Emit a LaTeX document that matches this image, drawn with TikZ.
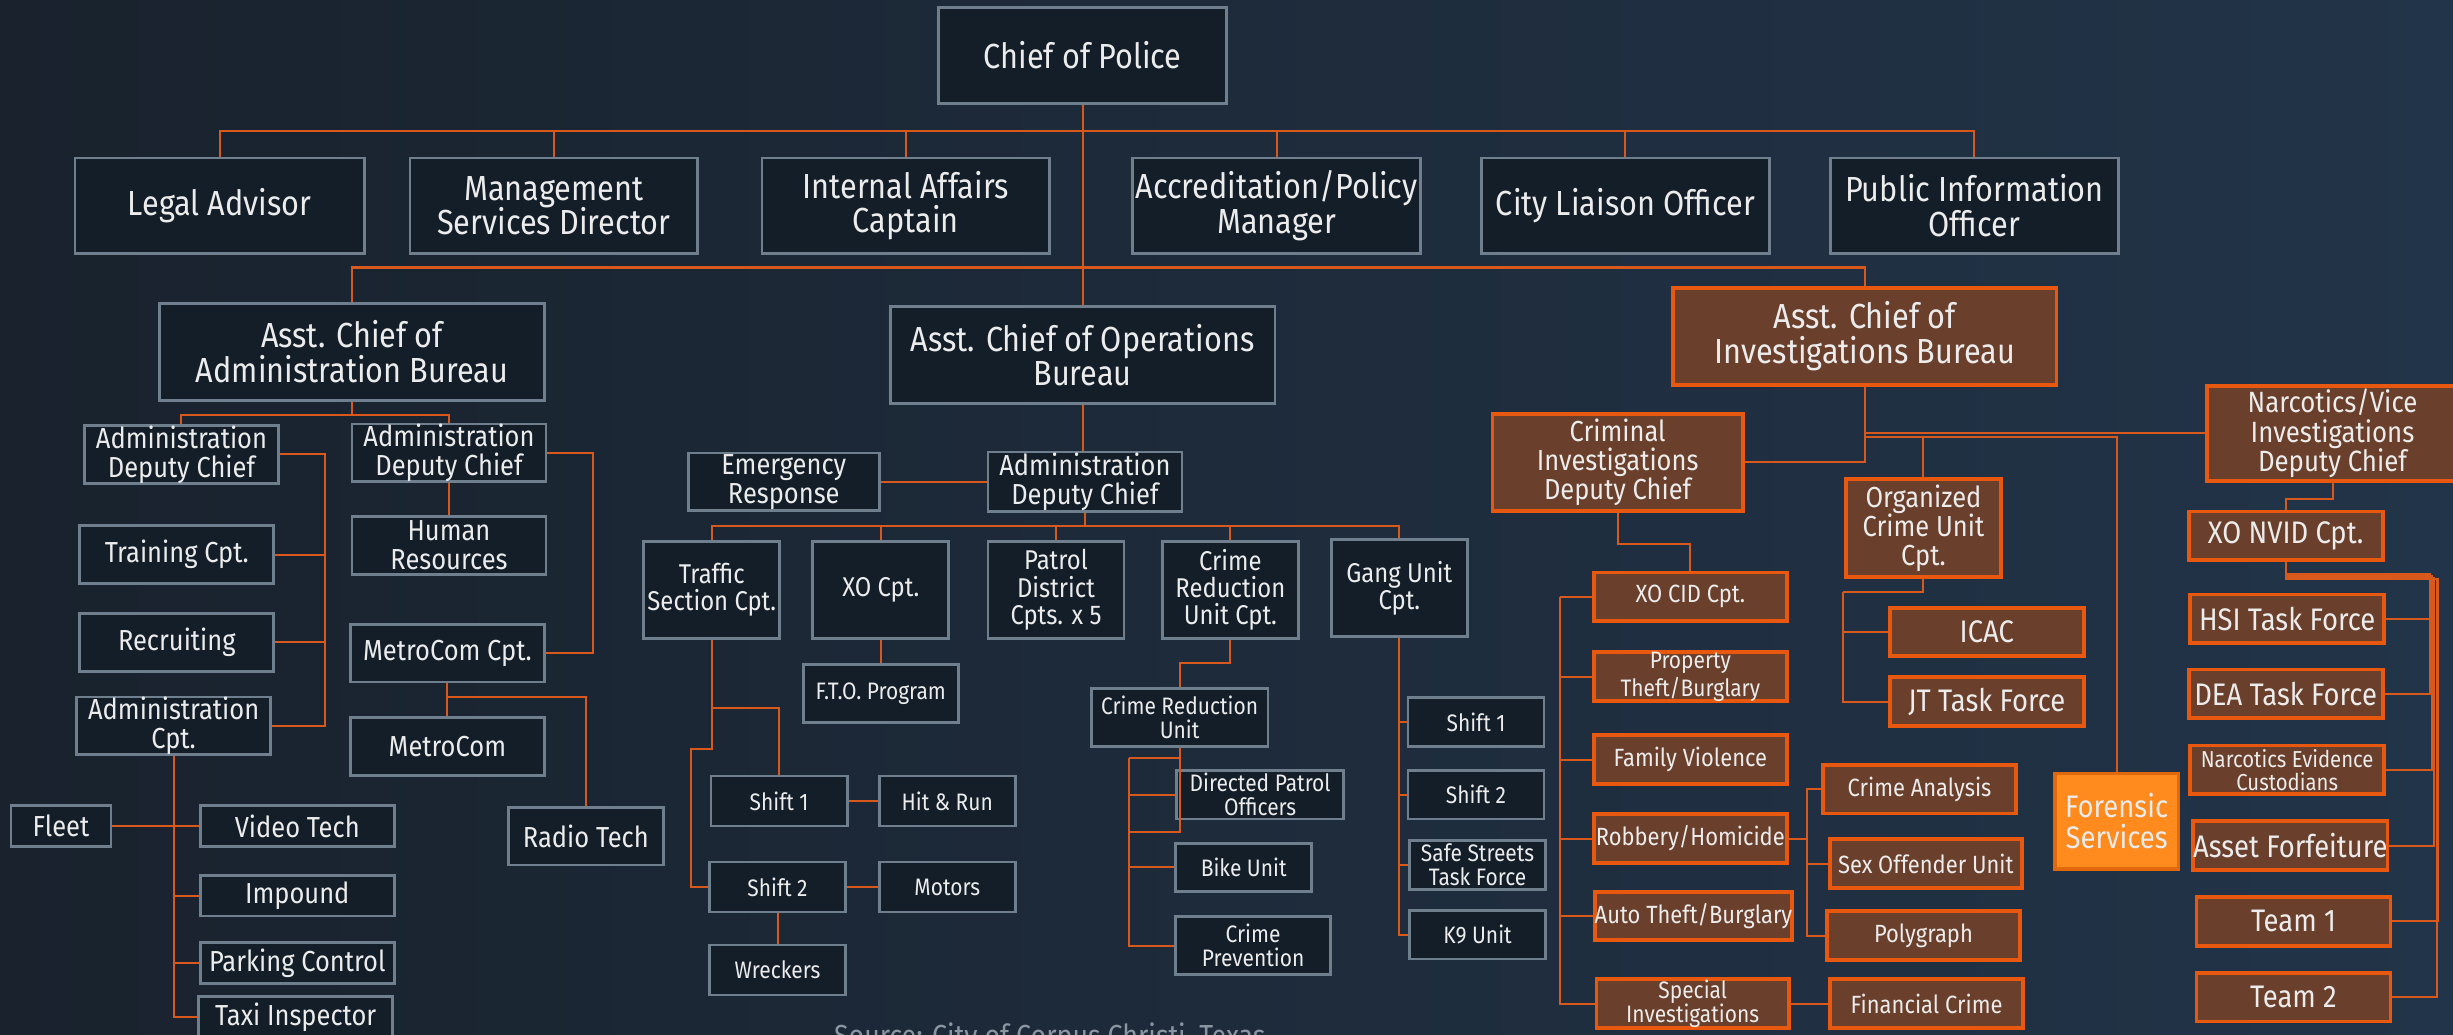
\documentclass[tikz,border=0pt]{standalone}
\usepackage{fontspec}
\setmainfont{Fira Sans}[FakeStretch=0.88]
\definecolor{bgA}{HTML}{19222D}
\definecolor{bgD}{HTML}{223449}
\definecolor{navyfill}{HTML}{131E28}
\definecolor{navyline}{HTML}{6F7F8D}
\definecolor{rustfill}{HTML}{6A3F2B}
\definecolor{rustline}{HTML}{E8590F}
\definecolor{flamefill}{HTML}{FF8A1E}
\definecolor{flameline}{HTML}{E2680E}
\definecolor{linkc}{HTML}{D9581B}
\definecolor{boxtext}{HTML}{ECECEC}
\definecolor{srctext}{HTML}{8B96A1}
\tikzset{
  box/.style={draw, inner sep=0pt, align=center, text=boxtext},
  navy/.style={box, fill=navyfill, draw=navyline, line width=0.75pt},
  rust/.style={box, fill=rustfill, draw=rustline, line width=1.05pt},
  flame/.style={box, fill=flamefill, draw=flameline, line width=0.9pt},
  wh/.style 2 args={minimum width=#1*0.15mm, minimum height=#2*0.15mm},
  fs/.style={font=\fontsize{#1}{#1}\selectfont},
  link/.style={draw=linkc, line width=0.55pt}
}

\begin{document}
\begin{tikzpicture}[x=0.15mm, y=-0.15mm]
% background
\shade[left color=bgA, right color=bgD] (0,0) rectangle (1568,661);
\useasboundingbox (0,0) rectangle (1568,661);

% chief and staff
\node[navy, wh={184}{61}, fs=9.5] (chief) at (692,35.5) {Chief of Police};
\node[navy, wh={185}{61}, fs=9.5] (legal) at (140.5,131.5) {Legal Advisor};
\node[navy, wh={184}{61}, fs=9.5] (mgmt) at (354,131.5) {Management\\Services Director};
\node[navy, wh={184}{61}, fs=9.5] (ia) at (579,131.5) {Internal Affairs\\Captain};
\node[navy, wh={184}{61}, fs=9.5] (accr) at (816,131.5) {Accreditation/Policy\\Manager};
\node[navy, wh={184}{61}, fs=9.5] (liaison) at (1039,131.5) {City Liaison Officer};
\node[navy, wh={184}{61}, fs=9.5] (pio) at (1262,131.5) {Public Information\\Officer};

% assistant chiefs
\node[navy, wh={246}{62}, fs=9.5] (adminb) at (225,225) {Asst. Chief of\\Administration Bureau};
\node[navy, wh={246}{62}, fs=9.5] (ops) at (692,227) {Asst. Chief of Operations\\Bureau};
\node[rust, wh={245}{62}, fs=9.5] (inv) at (1192,215) {Asst. Chief of\\Investigations Bureau};

% administration bureau
\node[navy, wh={124}{37}, fs=7.9] (adc1) at (116,290.5) {Administration\\Deputy Chief};
\node[navy, wh={124}{37}, fs=7.9] (adc2) at (287,289.5) {Administration\\Deputy Chief};
\node[navy, wh={124}{37}, fs=7.9] (train) at (113,354.5) {Training Cpt.};
\node[navy, wh={124}{37}, fs=7.9] (recruit) at (113,410.5) {Recruiting};
\node[navy, wh={124}{37}, fs=7.9] (admcpt) at (111,464) {Administration\\Cpt.};
\node[navy, wh={124}{37}, fs=7.9] (hr) at (287,348.5) {Human\\Resources};
\node[navy, wh={124}{37}, fs=7.9] (mcpt) at (286,417.5) {MetroCom Cpt.};
\node[navy, wh={124}{37}, fs=7.9] (metro) at (286,477) {MetroCom};
\node[navy, wh={99}{37}, fs=7.9] (radio) at (374.5,534.5) {Radio Tech};
\node[navy, wh={64}{26}, fs=7.9] (fleet) at (39,528) {Fleet};
\node[navy, wh={124}{26}, fs=7.9] (video) at (190,528) {Video Tech};
\node[navy, wh={124}{26}, fs=7.9] (impound) at (190,572.5) {Impound};
\node[navy, wh={124}{26}, fs=7.9] (parking) at (190,615.5) {Parking Control};
\node[navy, wh={124}{26}, fs=7.9] (taxi) at (189,650) {Taxi Inspector};

% operations bureau
\node[navy, wh={124}{38}, fs=7.9] (odc) at (693.5,308) {Administration\\Deputy Chief};
\node[navy, wh={122}{37}, fs=7.9] (er) at (501,308) {Emergency\\Response};
\node[navy, wh={87}{62}, fs=7.4] (traffic) at (455,377) {Traffic\\Section Cpt.};
\node[navy, wh={87}{62}, fs=7.4] (xo) at (563,377) {XO Cpt.};
\node[navy, wh={87}{62}, fs=7.4] (patrol) at (675,377) {Patrol\\District\\Cpts. x 5};
\node[navy, wh={87}{62}, fs=7.4] (cru) at (786.5,377) {Crime\\Reduction\\Unit Cpt.};
\node[navy, wh={87}{62}, fs=7.4] (gang) at (894.5,376) {Gang Unit\\Cpt.};
\node[navy, wh={99}{37}, fs=6.5] (fto) at (563,443.5) {F.T.O. Program};
\node[navy, wh={87}{32}, fs=6.5] (shift1) at (498,512) {Shift 1};
\node[navy, wh={87}{32}, fs=6.5] (hitrun) at (605.5,512) {Hit \& Run};
\node[navy, wh={87}{32}, fs=6.5] (shift2) at (497,567) {Shift 2};
\node[navy, wh={87}{32}, fs=6.5] (motors) at (605.5,567) {Motors};
\node[navy, wh={87}{32}, fs=6.5] (wreckers) at (497,620) {Wreckers};
\node[navy, wh={113}{37}, fs=6.5] (crunit) at (754,458.5) {Crime Reduction\\Unit};
\node[navy, wh={107}{31}, fs=6.5] (dpo) at (805.5,508) {Directed Patrol\\Officers};
\node[navy, wh={87}{31}, fs=6.5] (bike) at (795,554.5) {Bike Unit};
\node[navy, wh={99}{37}, fs=6.5] (prev) at (801,604.5) {Crime\\Prevention};
\node[navy, wh={87}{31}, fs=6.5] (gshift1) at (943.5,461.5) {Shift 1};
\node[navy, wh={87}{31}, fs=6.5] (gshift2) at (943.5,508) {Shift 2};
\node[navy, wh={87}{31}, fs=6.5] (safe) at (944.5,553) {Safe Streets\\Task Force};
\node[navy, wh={87}{31}, fs=6.5] (k9) at (944.5,597.5) {K9 Unit};

% investigations bureau
\node[rust, wh={160}{62}, fs=7.9] (cid) at (1034,295.5) {Criminal\\Investigations\\Deputy Chief};
\node[rust, wh={99}{63}, fs=7.9] (ocu) at (1229.5,337.5) {Organized\\Crime Unit\\Cpt.};
\node[rust, wh={124}{31}, fs=8.5] (icac) at (1270,404) {ICAC};
\node[rust, wh={124}{31}, fs=8.5] (jt) at (1270,448.5) {JT Task Force};
\node[rust, wh={123}{31}, fs=6.8] (xocid) at (1080.5,381.5) {XO CID Cpt.};
\node[rust, wh={123}{31}, fs=6.5] (prop) at (1080.5,432.5) {Property\\Theft/Burglary};
\node[rust, wh={123}{31}, fs=6.8] (family) at (1080.5,485.5) {Family Violence};
\node[rust, wh={123}{31}, fs=6.8] (robbery) at (1080.5,536) {Robbery/Homicide};
\node[rust, wh={123}{31}, fs=6.8] (auto) at (1082.5,585.5) {Auto Theft/Burglary};
\node[rust, wh={123}{31}, fs=6.5] (special) at (1082,641.5) {Special\\Investigations};
\node[rust, wh={123}{31}, fs=6.8] (analysis) at (1227,504.5) {Crime Analysis};
\node[rust, wh={123}{31}, fs=6.8] (sexoff) at (1231,552) {Sex Offender Unit};
\node[rust, wh={123}{31}, fs=6.8] (poly) at (1229.5,598) {Polygraph};
\node[rust, wh={123}{31}, fs=6.8] (financial) at (1231.5,641.5) {Financial Crime};
\node[flame, wh={79}{61}, fs=8.5] (forensic) at (1353,525) {Forensic\\Services};
\node[rust, wh={160}{61}, fs=8] (narc) at (1491,277) {Narcotics/Vice\\Investigations\\Deputy Chief};
\node[rust, wh={124}{31}, fs=8.5] (xonvid) at (1461,342.5) {XO NVID Cpt.};
\node[rust, wh={124}{31}, fs=8.5] (hsi) at (1462,395.5) {HSI Task Force};
\node[rust, wh={124}{31}, fs=8.5] (dea) at (1461,443.5) {DEA Task Force};
\node[rust, wh={124}{31}, fs=6.3] (nec) at (1462,492) {Narcotics Evidence\\Custodians};
\node[rust, wh={124}{31}, fs=8.5] (asset) at (1464,540.5) {Asset Forfeiture};
\node[rust, wh={124}{31}, fs=8.5] (team1) at (1466,589) {Team 1};
\node[rust, wh={124}{31}, fs=8.5] (team2) at (1466,637.5) {Team 2};

% source line
\node[anchor=base, text=srctext, fs=8.3] (source) at (671,669) {Source: City of Corpus Christi, Texas};

% chief to staff and bureaus
\coordinate (tbus) at (692,84);
\coordinate (mbus) at (692,171);
\foreach \n in {legal,mgmt,ia,accr,liaison,pio}
  \draw[link] (\n.north) |- (tbus);
\draw[link] (chief.south) -- (ops.north);
\draw[link] (adminb.north) |- (mbus) -| (inv.north);

% administration links
\coordinate (abus) at (225,265);
\coordinate (lspine) at (208,0);
\coordinate (rspine) at (379,0);
\coordinate (mjoint) at (286,445.5);
\draw[link] (adminb.south) -- (abus);
\foreach \n in {adc1,adc2}
  \draw[link] (\n.north) |- (abus);
\foreach \n in {train,recruit,admcpt}
  \draw[link] (adc1.east) -| (lspine |- \n.east) -- (\n.east);
\draw[link] (adc2.south) -- (hr.north);
\draw[link] (adc2.east) -| (rspine |- mcpt.east) -- (mcpt.east);
\draw[link] (mcpt.south) -- (metro.north);
\draw[link] (mjoint) -| (radio.north);
\foreach \n in {video,impound,parking,taxi}
  \draw[link] (admcpt.south) |- (\n.west);
\draw[link] (fleet.east) -- (video.west);

% operations links
\coordinate (obus) at (693.5,336);
\coordinate (tkink) at (442,479);
\coordinate (cspine) at (721.5,484.5);
\coordinate (cstub) at (721.5,532);
\draw[link] (ops.south) -- (ops.south |- odc.north);
\draw[link] (odc.west) -- (er.east);
\draw[link] (odc.south) -- (obus);
\foreach \n in {traffic,xo,patrol,cru,gang}
  \draw[link] (\n.north) |- (obus);
\draw[link] (xo.south) -- (fto.north);
\draw[link] (traffic.south) -- ++(0,44) -| (shift1.north);
\draw[link] (traffic.south) |- (tkink) |- (shift2.west);
\draw[link] (shift1.east) -- (hitrun.west);
\draw[link] (shift2.east) -- (motors.west);
\draw[link] (shift2.south) -- (wreckers.north);
\draw[link] (cru.south) -- ++(0,15) -| (crunit.north);
\draw[link] (crunit.south) |- (cspine);
\draw[link] (crunit.south) |- (cstub);
\foreach \n in {dpo,bike,prev}
  \draw[link] (cspine) |- (\n.west);
\foreach \n in {gshift1,gshift2,safe,k9}
  \draw[link] (gang.south) |- (\n.west);

% investigations links
\coordinate (ibus) at (1192,279.5);
\coordinate (ospine) at (1178,378.5);
\coordinate (cidspine) at (997,381.5);
\coordinate (rspine2) at (1155,536);
\draw[link] (inv.south) |- (cid.east);
\draw[link] (inv.south) |- (narc.west);
\draw[link] (ibus) -| (forensic.north);
\draw[link] (ibus) -| (ocu.north);
\draw[link] (ocu.south) |- (ospine);
\foreach \n in {icac,jt}
  \draw[link] (ospine) |- (\n.west);
\draw[link] (cid.south) -- ++(0,20) -| (xocid.north);
\draw[link] (xocid.west) -- (cidspine);
\foreach \n in {prop,family,robbery,auto,special}
  \draw[link] (cidspine) |- (\n.west);
\draw[link] (robbery.east) -- (rspine2);
\foreach \n in {analysis,sexoff,poly}
  \draw[link] (rspine2) |- (\n.west);
\draw[link] (special.east) -- (financial.west);
\draw[link] (narc.south) -- ++(0,10) -| (xonvid.north);
\foreach \n/\xv/\dy in {hsi/1553/0,dea/1553/0,nec/1554.5/1,asset/1556/2,team1/1558.5/3,team2/1557.5/3} {
  \coordinate (nv) at (\xv,0);
  \draw[link] (xonvid.south) -- ++(0,8+\dy) -| (nv |- \n.east) -- (\n.east);
}
\end{tikzpicture}
\end{document}
